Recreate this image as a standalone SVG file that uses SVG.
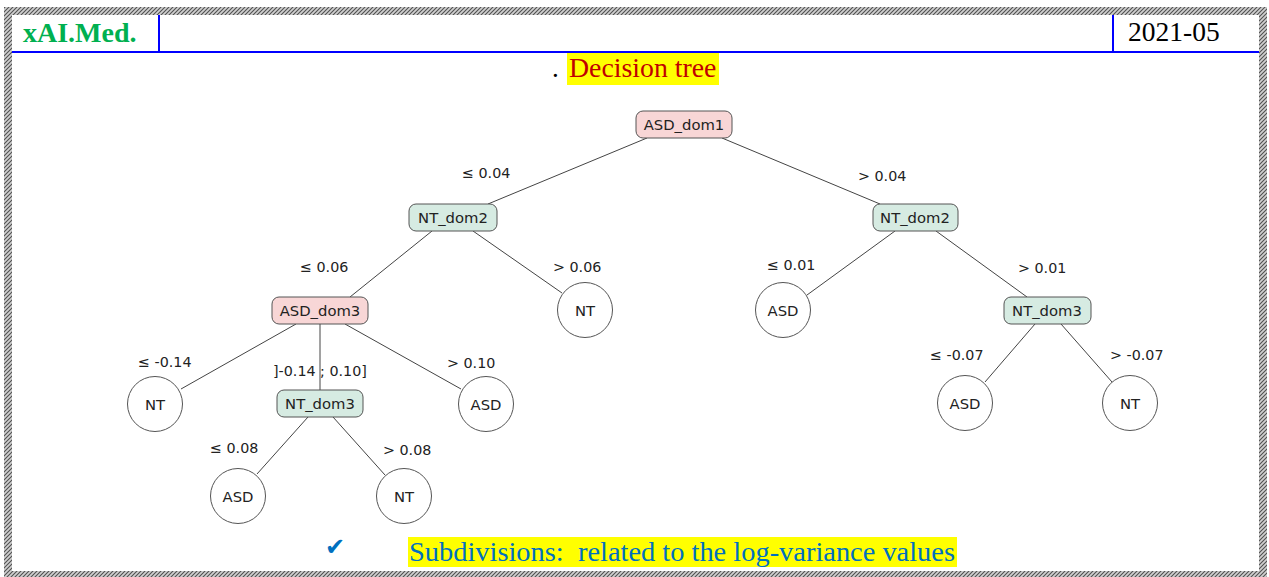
<svg xmlns="http://www.w3.org/2000/svg" width="1269" height="577" viewBox="0 0 1269 577">
  <defs>
    <pattern id="hatch" width="4" height="4" patternUnits="userSpaceOnUse">
      <rect width="4" height="4" fill="#d0d0d0"/>
      <path d="M-1,1 L1,-1 M0,4 L4,0 M3,5 L5,3" stroke="#505050" stroke-width="1.1"/>
    </pattern>
    <style>
      .hdr { font-family: "Liberation Serif", "Times New Roman", serif; }
      .node text { font-family: "DejaVu Sans", sans-serif; font-size: 14.8px; fill: #222; text-anchor: middle; }
      .pink { fill: #f8d6d6; stroke: #555; stroke-width: 1; }
      .green { fill: #d6ebe2; stroke: #555; stroke-width: 1; }
      .leaf { fill: #fff; stroke: #555; stroke-width: 1; }
      #connectors line { stroke: #444; stroke-width: 1; }
      .lbl { font-family: "DejaVu Sans", sans-serif; font-size: 14.3px; fill: #222; }
    </style>
  </defs>

  <rect width="1269" height="577" fill="#fff"/>

  <!-- hatched page frame -->
  <g id="frame" fill="url(#hatch)">
    <rect x="4" y="7" width="1263" height="8"/>
    <rect x="4" y="7" width="8" height="570"/>
    <rect x="1259" y="7" width="8" height="570"/>
    <rect x="4" y="571" width="1263" height="6"/>
  </g>

  <!-- header bar -->
  <g id="header">
    <line x1="12" y1="52" x2="1259" y2="52" stroke="#0000ff" stroke-width="2"/>
    <line x1="159" y1="15" x2="159" y2="52" stroke="#0000ff" stroke-width="2"/>
    <line x1="1113" y1="15" x2="1113" y2="52" stroke="#0000ff" stroke-width="2"/>
    <text class="hdr" x="23" y="42" font-size="28" font-weight="bold" fill="#00b050">xAI.Med.</text>
    <text class="hdr" x="1128" y="41" font-size="27.5" fill="#000">2021-05</text>
  </g>

  <!-- title -->
  <g id="title">
    <text class="hdr" x="552" y="77" font-size="27" fill="#000">.</text>
    <rect x="567" y="53" width="152" height="32" fill="#ffff00"/>
    <text class="hdr" x="569" y="77" font-size="27.8" fill="#c00000">Decision tree</text>
  </g>

  <!-- connectors -->
  <g id="connectors">
    <line x1="647" y1="138" x2="488" y2="204"/>
    <line x1="722" y1="138" x2="880" y2="204"/>
    <line x1="432" y1="231" x2="350" y2="297"/>
    <line x1="473" y1="231" x2="562" y2="293"/>
    <line x1="895" y1="231" x2="807" y2="295"/>
    <line x1="936" y1="231" x2="1027" y2="297"/>
    <line x1="296" y1="324" x2="181" y2="389"/>
    <line x1="320" y1="324" x2="320" y2="390"/>
    <line x1="345" y1="324" x2="461" y2="389"/>
    <line x1="1035" y1="324" x2="985" y2="382"/>
    <line x1="1061" y1="324" x2="1112" y2="382"/>
    <line x1="308" y1="417" x2="257" y2="474"/>
    <line x1="333" y1="417" x2="385" y2="475"/>
  </g>

  <!-- edge labels -->
  <g id="edge-labels">
    <text class="lbl" x="462" y="178">≤ 0.04</text>
    <text class="lbl" x="858" y="181">&gt; 0.04</text>
    <text class="lbl" x="300" y="272">≤ 0.06</text>
    <text class="lbl" x="553" y="272">&gt; 0.06</text>
    <text class="lbl" x="767" y="270">≤ 0.01</text>
    <text class="lbl" x="1018" y="273">&gt; 0.01</text>
    <text class="lbl" x="138" y="367">≤ -0.14</text>
    <text class="lbl" x="273" y="376">]-0.14 ; 0.10]</text>
    <text class="lbl" x="447" y="368">&gt; 0.10</text>
    <text class="lbl" x="930" y="360">≤ -0.07</text>
    <text class="lbl" x="1110" y="360">&gt; -0.07</text>
    <text class="lbl" x="210" y="453">≤ 0.08</text>
    <text class="lbl" x="383" y="455">&gt; 0.08</text>
  </g>

  <!-- split nodes -->
  <g id="n-asd-dom1" class="node">
    <rect class="pink" x="636" y="111" width="96" height="27" rx="7"/>
    <text x="684" y="129.5">ASD_dom1</text>
  </g>
  <g id="n-nt-dom2-l" class="node">
    <rect class="green" x="409" y="204" width="88" height="27" rx="7"/>
    <text x="453" y="222.5">NT_dom2</text>
  </g>
  <g id="n-nt-dom2-r" class="node">
    <rect class="green" x="873" y="204" width="85" height="27" rx="7"/>
    <text x="915" y="222.5">NT_dom2</text>
  </g>
  <g id="n-asd-dom3" class="node">
    <rect class="pink" x="272" y="297" width="96" height="27" rx="7"/>
    <text x="320" y="315.5">ASD_dom3</text>
  </g>
  <g id="n-nt-dom3-r" class="node">
    <rect class="green" x="1004" y="297" width="87" height="27" rx="7"/>
    <text x="1047" y="315.5">NT_dom3</text>
  </g>
  <g id="n-nt-dom3-m" class="node">
    <rect class="green" x="277" y="390" width="86" height="27" rx="7"/>
    <text x="320" y="408.5">NT_dom3</text>
  </g>

  <!-- leaves -->
  <g id="leaf-nt-1" class="node">
    <circle class="leaf" cx="585" cy="310" r="27.5"/>
    <text x="585" y="315.5">NT</text>
  </g>
  <g id="leaf-asd-1" class="node">
    <circle class="leaf" cx="783" cy="310" r="27.5"/>
    <text x="783" y="315.5">ASD</text>
  </g>
  <g id="leaf-nt-2" class="node">
    <circle class="leaf" cx="155" cy="404" r="27.5"/>
    <text x="155" y="409.5">NT</text>
  </g>
  <g id="leaf-asd-2" class="node">
    <circle class="leaf" cx="486" cy="404" r="27.5"/>
    <text x="486" y="409.5">ASD</text>
  </g>
  <g id="leaf-asd-3" class="node">
    <circle class="leaf" cx="965" cy="403" r="27.5"/>
    <text x="965" y="408.5">ASD</text>
  </g>
  <g id="leaf-nt-3" class="node">
    <circle class="leaf" cx="1130" cy="403" r="27.5"/>
    <text x="1130" y="408.5">NT</text>
  </g>
  <g id="leaf-asd-4" class="node">
    <circle class="leaf" cx="238" cy="496" r="27.5"/>
    <text x="238" y="501.5">ASD</text>
  </g>
  <g id="leaf-nt-4" class="node">
    <circle class="leaf" cx="404" cy="496" r="27.5"/>
    <text x="404" y="501.5">NT</text>
  </g>

  <!-- footnote -->
  <g id="footnote">
    <text x="325" y="555" font-family="DejaVu Sans, sans-serif" font-size="24" fill="#0070c0">✔</text>
    <rect x="408" y="537" width="549" height="30" fill="#ffff00"/>
    <text class="hdr" x="409" y="561" font-size="27.5" fill="#0070c0" textLength="546" lengthAdjust="spacingAndGlyphs" xml:space="preserve">Subdivisions:  related to the log-variance values</text>
  </g>
</svg>
